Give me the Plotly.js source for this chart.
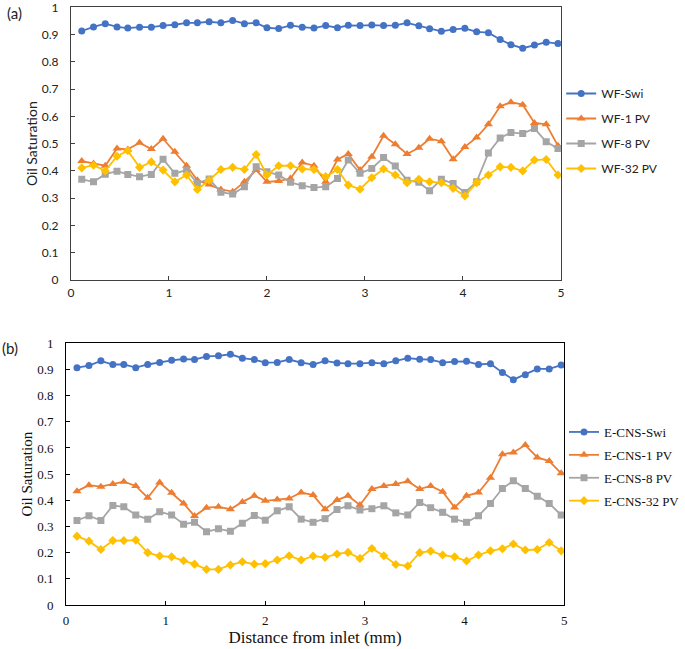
<!DOCTYPE html>
<html>
<head>
<meta charset="utf-8">
<script src="https://cdn.plot.ly/plotly-3.0.1.min.js"></script>
<style>html,body{margin:0;padding:0;background:#fff;}#chart{width:685px;height:649px;}</style>
</head>
<body>
<div id="chart"></div>
<script>
// Distance from inlet (mm)
const distance = [0.11,0.23,0.35,0.47,0.58,0.70,0.82,0.94,1.06,1.18,1.29,1.41,1.53,1.65,1.77,1.89,2.00,2.12,2.24,2.36,2.48,2.60,2.72,2.83,2.95,3.07,3.19,3.31,3.43,3.55,3.66,3.78,3.90,4.02,4.14,4.26,4.38,4.49,4.61,4.73,4.85,4.97];

// Panel (a) — water flooding
const wfSwi = [0.913,0.928,0.940,0.928,0.924,0.927,0.927,0.933,0.936,0.943,0.943,0.947,0.943,0.952,0.940,0.943,0.925,0.922,0.934,0.927,0.924,0.933,0.925,0.934,0.933,0.935,0.933,0.934,0.943,0.932,0.921,0.912,0.919,0.923,0.910,0.907,0.882,0.863,0.850,0.862,0.872,0.867];
const wf1PV = [0.436,0.427,0.419,0.482,0.479,0.503,0.480,0.518,0.470,0.419,0.366,0.350,0.332,0.324,0.360,0.403,0.360,0.363,0.372,0.431,0.419,0.360,0.442,0.462,0.403,0.452,0.529,0.498,0.462,0.485,0.518,0.509,0.443,0.488,0.523,0.571,0.637,0.652,0.643,0.576,0.571,0.492];
const wf8PV = [0.369,0.360,0.388,0.399,0.387,0.379,0.387,0.443,0.391,0.403,0.354,0.370,0.322,0.315,0.342,0.415,0.397,0.385,0.358,0.346,0.339,0.342,0.372,0.440,0.391,0.409,0.449,0.418,0.366,0.358,0.327,0.369,0.354,0.321,0.360,0.466,0.521,0.541,0.537,0.556,0.507,0.482];
const wf32PV = [0.411,0.421,0.400,0.454,0.474,0.413,0.433,0.403,0.360,0.385,0.332,0.366,0.405,0.413,0.405,0.460,0.385,0.419,0.419,0.407,0.405,0.379,0.405,0.348,0.333,0.375,0.407,0.385,0.357,0.369,0.360,0.357,0.336,0.308,0.357,0.385,0.415,0.413,0.400,0.440,0.442,0.385];

// Panel (b) — E-CNS flooding
const ecnsSwi = [0.907,0.915,0.933,0.919,0.919,0.907,0.919,0.927,0.935,0.940,0.938,0.950,0.952,0.958,0.943,0.938,0.926,0.927,0.938,0.926,0.919,0.933,0.925,0.922,0.922,0.926,0.922,0.933,0.943,0.939,0.938,0.926,0.930,0.931,0.919,0.922,0.888,0.861,0.880,0.902,0.902,0.917];
const ecns1PV = [0.435,0.458,0.452,0.462,0.471,0.455,0.410,0.468,0.429,0.388,0.340,0.372,0.375,0.366,0.394,0.417,0.398,0.403,0.407,0.430,0.420,0.366,0.401,0.417,0.382,0.443,0.455,0.462,0.473,0.443,0.455,0.433,0.373,0.417,0.430,0.486,0.576,0.583,0.611,0.564,0.550,0.503];
const ecns8PV = [0.323,0.341,0.323,0.380,0.375,0.344,0.328,0.356,0.344,0.309,0.316,0.280,0.291,0.282,0.312,0.342,0.324,0.360,0.375,0.328,0.316,0.330,0.365,0.379,0.363,0.368,0.379,0.352,0.344,0.392,0.372,0.354,0.328,0.316,0.341,0.388,0.445,0.475,0.445,0.416,0.388,0.344];
const ecns32PV = [0.263,0.244,0.212,0.246,0.246,0.248,0.200,0.187,0.184,0.169,0.156,0.136,0.136,0.153,0.165,0.156,0.158,0.172,0.188,0.172,0.187,0.182,0.195,0.201,0.178,0.216,0.188,0.155,0.149,0.200,0.206,0.191,0.184,0.168,0.191,0.207,0.215,0.233,0.210,0.212,0.239,0.207];

const namesA = ['WF-Swi','WF-1 PV','WF-8 PV','WF-32 PV'];
const namesB = ['E-CNS-Swi','E-CNS-1 PV','E-CNS-8 PV','E-CNS-32 PV'];
const yTicks = [0,0.1,0.2,0.3,0.4,0.5,0.6,0.7,0.8,0.9,1];
const xTicks = [0,1,2,3,4,5];

const colors = ['#4472C4','#ED7D31','#A5A5A5','#FFC000'];
const symbols = ['circle','triangle-up','square','diamond'];
const msize = [7,8,7,7];

const W = 685, H = 649;
const sansFont = 'Lato, Carlito, Calibri, "Liberation Sans", sans-serif';
const serifFont = '"Liberation Serif", "Times New Roman", serif';

const seriesA = [wfSwi, wf1PV, wf8PV, wf32PV];
const seriesB = [ecnsSwi, ecns1PV, ecns8PV, ecns32PV];

const traces = [];
seriesA.forEach((ys, i) => traces.push({
  x: distance, y: ys, name: namesA[i], type: 'scatter', mode: 'lines+markers',
  xaxis: 'x', yaxis: 'y', legend: 'legend', legendgroup: 'a' + i,
  line: {color: colors[i], width: 1.8},
  marker: {color: colors[i], symbol: symbols[i], size: msize[i]}
}));
seriesB.forEach((ys, i) => traces.push({
  x: distance, y: ys, name: namesB[i], type: 'scatter', mode: 'lines+markers',
  xaxis: 'x2', yaxis: 'y2', legend: 'legend2', legendgroup: 'b' + i,
  line: {color: colors[i], width: 1.8},
  marker: {color: colors[i], symbol: symbols[i], size: msize[i]}
}));

function axisBase(font, lineColor) {
  return {
    showgrid: false, zeroline: false, showline: true, mirror: true,
    linecolor: lineColor, linewidth: 1,
    ticks: 'inside', ticklen: 4, tickcolor: lineColor,
    ticklabeloverflow: 'allow',
    tickfont: {family: font, size: 12, color: '#222'}
  };
}

const layout = {
  width: W, height: H,
  margin: {l: 0, r: 0, t: 0, b: 0},
  paper_bgcolor: '#fff', plot_bgcolor: '#fff',
  showlegend: true,
  xaxis: Object.assign(axisBase(sansFont, '#404040'), {
    domain: [71.7 / W, 566.7 / W], range: [0, 5], tickvals: xTicks, anchor: 'y',
    ticklabelstandoff: 2
  }),
  yaxis: Object.assign(axisBase(sansFont, '#404040'), {
    domain: [1 - 280 / H, 1 - 7.3 / H], range: [0, 1], tickvals: yTicks, anchor: 'x',
    ticklabelstandoff: 9,
    title: {text: 'Oil Saturation', font: {family: sansFont, size: 14, color: '#222'}, standoff: 0}
  }),
  xaxis2: Object.assign(axisBase(serifFont, '#000'), {
    domain: [66.7 / W, 570 / W], range: [0, 5], tickvals: xTicks, anchor: 'y2',
    ticklabelstandoff: 3,
    tickfont: {family: serifFont, size: 13, color: '#111'},
    title: {text: 'Distance from inlet (mm)', font: {family: serifFont, size: 17, color: '#111'}, standoff: 0}
  }),
  yaxis2: Object.assign(axisBase(serifFont, '#000'), {
    domain: [1 - 605 / H, 1 - 343.3 / H], range: [0, 1], tickvals: yTicks, anchor: 'x2',
    ticklabelstandoff: 9,
    tickfont: {family: serifFont, size: 13, color: '#111'},
    title: {text: 'Oil Saturation', font: {family: serifFont, size: 15, color: '#111'}, standoff: 0}
  }),
  legend: {
    x: 567 / W, xanchor: 'left', y: 1 - 79 / H, yanchor: 'top',
    font: {family: sansFont, size: 12, color: '#222'},
    bgcolor: 'rgba(0,0,0,0)', borderwidth: 0, tracegroupgap: 6, traceorder: 'grouped'
  },
  legend2: {
    x: 570 / W, xanchor: 'left', y: 1 - 417 / H, yanchor: 'top',
    font: {family: serifFont, size: 13, color: '#111'},
    bgcolor: 'rgba(0,0,0,0)', borderwidth: 0, tracegroupgap: 3, traceorder: 'grouped'
  },
  annotations: [
    {text: '(a)', x: 5 / W, y: 1 - 13 / H, xref: 'paper', yref: 'paper', xanchor: 'left', yanchor: 'middle', showarrow: false, font: {family: sansFont, size: 15, color: '#222'}},
    {text: '(b)', x: 0 / W, y: 1 - 348 / H, xref: 'paper', yref: 'paper', xanchor: 'left', yanchor: 'middle', showarrow: false, font: {family: sansFont, size: 15, color: '#222'}}
  ]
};

Plotly.newPlot('chart', traces, layout, {displayModeBar: false, staticPlot: true});
</script>
</body>
</html>
